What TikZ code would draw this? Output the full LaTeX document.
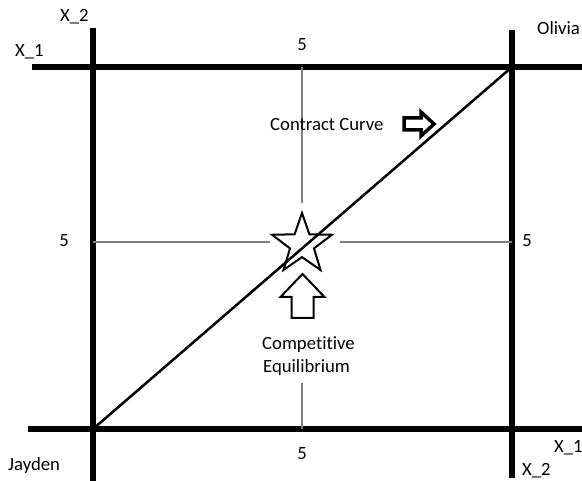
\documentclass[tikz,border=0pt]{standalone}
\usepackage{fontspec}
\setmainfont{Carlito}[Ligatures=NoCommon]
\usetikzlibrary{positioning,arrows.meta,calc,shapes.geometric}

\begin{document}
\begin{tikzpicture}[x=1pt,y=-1pt,
  every node/.style={font=\fontsize{18.7}{22}\selectfont,inner sep=0pt},
  axisline/.style={line width=5.5pt},
  guideline/.style={draw=black!50,line width=1.4pt},
  blockarrow/.style={draw,line join=miter,fill=white}]
\useasboundingbox (0,0) rectangle (582,481);

% corners of the box
\coordinate (jay) at (93,429);
\coordinate (oli) at (512,67);
\coordinate (ltop) at (93,28);
\coordinate (lbot) at (93,481);
\coordinate (rtop) at (512,30);
\coordinate (rbot) at (512,478);
\coordinate (tleft) at (32,67);
\coordinate (tright) at (582,67);
\coordinate (bleft) at (28,429);
\coordinate (bright) at (582,429);

% the box
\draw[axisline] (tleft) -- (tright);
\draw[axisline] (bleft) -- (bright);
\draw[axisline] (ltop) -- (lbot);
\draw[axisline] (rtop) -- (rbot);

% guides at 5
\coordinate (gt) at (302,67);
\coordinate (gt2) at (302,203);
\coordinate (gb) at (302,383);
\coordinate (gb2) at (302,429);
\coordinate (gl) at (93,242);
\coordinate (gl2) at (270,242);
\coordinate (gr) at (340,242);
\coordinate (gr2) at (512,242);
\draw[guideline] (gt) -- (gt2);
\draw[guideline] (gb) -- (gb2);
\draw[guideline] (gl) -- (gl2);
\draw[guideline] (gr) -- (gr2);

% contract curve
\draw[line width=2.5pt] (jay) -- (oli);

% equilibrium
\node[star,star points=5,star point ratio=2.5,minimum size=63pt,draw,line width=2pt] (eq) at (302,244.5) {};
\draw[blockarrow,line width=2pt] (302.5,274) -- (324.5,297) -- (313.5,297) -- (313.5,318)
  -- (291.5,318) -- (291.5,297) -- (280.5,297) -- cycle;
\draw[blockarrow,line width=3.5pt] (434,124) -- (421,112) -- (421,118) -- (404,118)
  -- (404,130) -- (421,130) -- (421,136) -- cycle;

% labels
\node[anchor=base west] (x2a) at (60,22) {X\_2};
\node[anchor=base west] (x1a) at (15,57) {X\_1};
\node[anchor=base west] (olivia) at (537,35) {Olivia};
\node[anchor=base] (fivet) at (302,51) {5};
\node[anchor=base] (fivel) at (64,247) {5};
\node[anchor=base] (fiver) at (527,247) {5};
\node[anchor=base] (fiveb) at (302,460) {5};
\node[anchor=base west] (cc) at (270,131) {Contract Curve};
\node[anchor=base west] (ce1) at (262,350) {Competitive};
\node[anchor=base west] (ce2) at (263,373) {Equilibrium};
\node[anchor=base west] (jayden) at (8,471) {Jayden};
\node[anchor=base west] (x1b) at (554,453) {X\_1};
\node[anchor=base west] (x2b) at (522,476) {X\_2};
\end{tikzpicture}
\end{document}
